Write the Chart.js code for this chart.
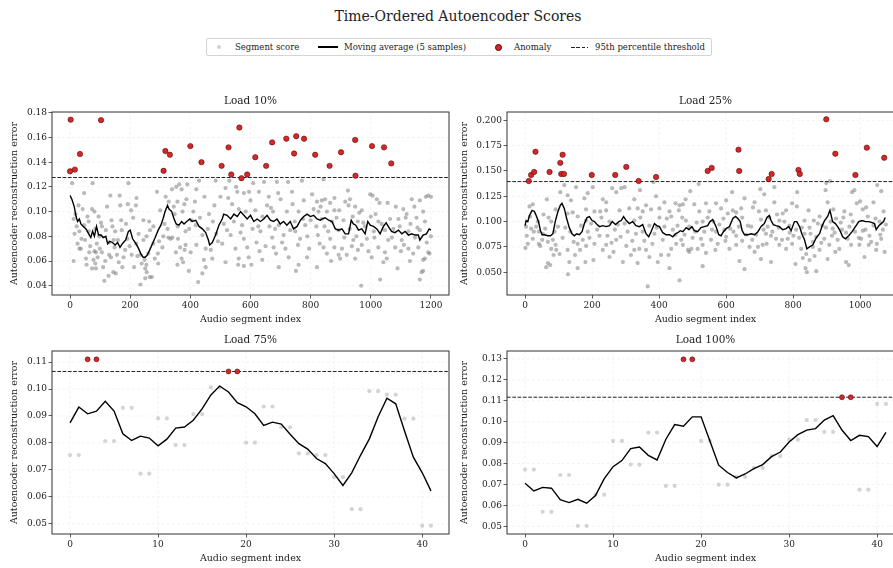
<!DOCTYPE html>
<html><head><meta charset="utf-8">
<script src="https://cdn.jsdelivr.net/npm/chart.js@4.4.0/dist/chart.umd.min.js"></script>
<style>
html,body{margin:0;padding:0;width:893px;height:568px;overflow:hidden;background:#fff;font-family:"DejaVu Serif",serif;color:#222}
canvas{position:absolute}
#title{position:absolute;left:0;width:916px;top:6px;text-align:center;font-size:14px;line-height:20px;white-space:nowrap}
#legend{position:absolute;left:206px;top:38px;width:504px;height:16px;border:1px solid #d4d4d4;border-radius:2px;background:#fff}
.lt{position:absolute;top:0;font-size:8.5px;line-height:16px;white-space:nowrap}
.dot{position:absolute;border-radius:50%}
</style></head>
<body>
<div id="title">Time-Ordered Autoencoder Scores</div>
<div id="legend">
  <div class="dot" style="left:10px;top:6px;width:4px;height:4px;background:#d3d3d3"></div>
  <div class="lt" style="left:28px">Segment score</div>
  <div style="position:absolute;left:111px;top:7px;width:20px;height:1.5px;background:#000"></div>
  <div class="lt" style="left:137px">Moving average (5 samples)</div>
  <div class="dot" style="left:288px;top:5px;width:5px;height:5px;background:#d62728;border:0.6px solid #5a0000"></div>
  <div class="lt" style="left:307px">Anomaly</div>
  <div style="position:absolute;left:364px;top:7.5px;width:17px;height:1px;background:repeating-linear-gradient(90deg,#222 0 3.7px,transparent 3.7px 5.3px)"></div>
  <div class="lt" style="left:388px">95th percentile threshold</div>
</div>
<canvas id="c10" width="460" height="240" style="left:0;top:90px"></canvas>
<canvas id="c25" width="470" height="240" style="left:450px;top:90px"></canvas>
<canvas id="c75" width="460" height="240" style="left:0;top:329px"></canvas>
<canvas id="c100" width="470" height="240" style="left:450px;top:329px"></canvas>
<script>
// ---------------- DATA ----------------
// Load 10%
const load10Scores = [[7,.123],[75,.123],[194,.123],[47,.115],[134,.113],[165,.113],[221,.111],[289,.116],[339,.118],[353,.120],[363,.122],[390,.122],[371,.118],[357,.108],[387,.110],[42,.102],[73,.102],[81,.100],[123,.104],[167,.105],[192,.106],[203,.101],[219,.105],[244,.093],[300,.101],[328,.108],[348,.098],[12,.094],[95,.096],[62,.092],[103,.091],[374,.100],[404,.093],[138,.093],[170,.093],[141,.088],[106,.088],[47,.089],[22,.088],[62,.084],[31,.084],[84,.086],[119,.085],[150,.084],[172,.085],[263,.092],[277,.088],[266,.085],[324,.086],[327,.079],[340,.079],[359,.078],[384,.084],[358,.088],[25,.074],[50,.077],[38,.078],[97,.080],[89,.074],[130,.075],[145,.077],[159,.077],[191,.078],[220,.074],[244,.077],[254,.080],[277,.074],[307,.071],[310,.080],[334,.078],[366,.071],[384,.073],[31,.070],[36,.070],[64,.067],[81,.068],[86,.067],[106,.067],[130,.065],[136,.063],[156,.065],[178,.063],[205,.065],[224,.064],[235,.065],[248,.061],[292,.066],[381,.069],[371,.062],[401,.067],[12,.060],[53,.062],[78,.061],[55,.057],[73,.054],[84,.058],[110,.055],[128,.048],[174,.055],[213,.055],[254,.057],[250,.054],[255,.051],[293,.058],[357,.057],[376,.059],[395,.052],[265,.047],[114,.044],[144,.051],[152,.050],[234,.041],[250,.046],[272,.047],[86,.054],
[429,.125],[484,.125],[530,.125],[609,.123],[645,.124],[688,.124],[725,.124],[771,.125],[420,.118],[517,.119],[556,.116],[578,.115],[628,.116],[600,.109],[661,.112],[692,.115],[738,.116],[777,.109],[821,.108],[410,.100],[462,.098],[526,.111],[539,.106],[561,.102],[616,.101],[655,.105],[675,.100],[721,.100],[760,.100],[810,.102],[833,.104],[418,.089],[475,.092],[511,.090],[572,.089],[626,.088],[663,.088],[694,.089],[747,.092],[782,.089],[819,.088],[440,.081],[486,.082],[534,.081],[578,.078],[633,.084],[672,.079],[710,.081],[749,.084],[789,.080],[824,.081],[420,.073],[451,.070],[506,.074],[550,.070],[589,.071],[630,.068],[677,.071],[716,.070],[758,.073],[795,.070],[445,.061],[473,.062],[517,.059],[561,.062],[594,.063],[639,.061],[685,.066],[727,.063],[760,.057],[788,.063],[451,.055],[440,.050],[426,.043],[559,.057],[603,.057],[694,.055],[751,.052],[821,.055],[578,.056],
[843,.126],[837,.109],[848,.110],[865,.107],[879,.111],[924,.117],[998,.114],[1006,.113],[1029,.107],[1056,.107],[1136,.110],[1163,.109],[1183,.112],[1191,.113],[931,.110],[826,.100],[854,.100],[879,.101],[895,.101],[926,.105],[948,.104],[970,.101],[1016,.098],[1083,.104],[1116,.095],[1152,.095],[1174,.100],[837,.094],[871,.092],[909,.093],[940,.096],[957,.092],[1025,.092],[1092,.094],[1119,.098],[1180,.092],[846,.088],[893,.085],[981,.088],[1047,.085],[1075,.086],[1125,.084],[1163,.085],[865,.078],[912,.079],[942,.077],[987,.078],[1012,.079],[1058,.077],[1103,.077],[1147,.079],[843,.071],[879,.071],[904,.070],[937,.072],[970,.073],[1025,.071],[1081,.071],[1125,.070],[1158,.071],[1191,.067],[854,.066],[893,.065],[920,.065],[957,.069],[1003,.063],[1047,.067],[1100,.068],[1141,.066],[1180,.062],[868,.060],[948,.062],[1042,.059],[1130,.060],[1174,.061],[1031,.045],[1089,.054],[1163,.045],[1169,.051],[968,.040],[1174,.052],[1053,.062],[1200,.112],[1200,.080],[1195,.066],
[15,.082],[18,.098],[28,.105],[58,.096],[67,.072],[92,.063],[99,.070],[117,.060],[148,.071],[162,.059],[183,.069],[186,.090],[198,.072],[210,.095],[228,.082],[238,.058],[260,.066],[282,.062],[296,.076],[314,.090],[318,.112],[345,.104],[352,.067],[380,.106],[396,.086],[415,.108],[432,.095],[447,.112],[458,.086],[468,.069],[480,.105],[492,.076],[500,.112],[522,.085],[545,.092],[552,.120],[567,.083],[584,.100],[595,.116],[607,.086],[620,.075],[640,.096],[650,.072],[668,.103],[682,.086],[700,.110],[705,.075],[732,.085],[740,.106],[765,.078],[775,.094],[800,.093],[805,.114],[830,.074],[858,.084],[886,.095],[898,.062],[915,.108],[930,.086],[952,.080],[962,.099],[975,.091],[992,.068],[1000,.096],[1010,.084],[1020,.110],[1036,.090],[1064,.094],[1070,.079],[1096,.088],[1108,.102],[1110,.073],[1132,.090],[1145,.104],[1155,.087],[1186,.075]];
const load10Anomalies = [[0,.1326],[2,.1744],[16,.134],[33,.1466],[103,.174],[311,.133],[317,.149],[332,.146],[400,.153],[437,.140],[504,.137],[527,.152],[536,.130],[563,.168],[570,.127],[589,.130],[616,.144],[652,.137],[672,.156],[719,.159],[745,.147],[752,.161],[778,.159],[815,.146],[863,.137],[901,.148],[948,.158],[949,.129],[1004,.153],[1044,.152],[1068,.139]];
const load10MovingAvg = [[0,.113],[6,.110],[14,.104],[20,.096],[25,.092],[31,.094],[36,.090],[44,.088],[53,.086],[62,.082],[69,.079],[75,.084],[81,.080],[88,.088],[95,.081],[103,.081],[110,.079],[119,.080],[125,.074],[132,.076],[141,.075],[150,.073],[158,.075],[166,.071],[174,.074],[185,.077],[194,.084],[200,.085],[208,.078],[219,.074],[228,.070],[235,.066],[243,.063],[250,.063],[257,.065],[265,.069],[274,.074],[283,.079],[293,.085],[302,.089],[309,.094],[316,.100],[324,.105],[329,.102],[338,.100],[346,.094],[353,.090],[362,.089],[371,.092],[379,.090],[388,.092],[398,.094],[406,.092],[418,.093],[429,.088],[440,.086],[451,.083],[460,.077],[464,.073],[473,.075],[484,.081],[495,.089],[506,.094],[511,.098],[522,.097],[534,.094],[545,.098],[556,.096],[567,.100],[578,.097],[589,.094],[600,.097],[611,.092],[622,.094],[633,.092],[644,.094],[655,.097],[666,.093],[677,.092],[688,.094],[699,.090],[710,.092],[721,.089],[732,.092],[743,.086],[755,.088],[766,.093],[777,.096],[788,.098],[799,.096],[810,.097],[821,.094],[832,.093],[837,.094],[848,.095],[860,.093],[871,.092],[882,.086],[893,.085],[904,.086],[915,.082],[926,.082],[935,.093],[942,.090],[950,.089],[959,.085],[970,.086],[981,.082],[990,.092],[998,.089],[1009,.088],[1020,.086],[1031,.082],[1042,.088],[1051,.091],[1058,.088],[1069,.084],[1080,.083],[1092,.085],[1103,.082],[1114,.084],[1125,.081],[1136,.082],[1147,.081],[1158,.081],[1163,.077],[1174,.081],[1185,.082],[1194,.086],[1200,.085]];
const load10Threshold = 0.1276;
const load10XTicks = [0,200,400,600,800,1000,1200];
const load10XLabels = ['0','200','400','600','800','1000','1200'];
const load10YTicks = [0.04,0.06,0.08,0.10,0.12,0.14,0.16,0.18];
const load10YLabels = ['0.04','0.06','0.08','0.10','0.12','0.14','0.16','0.18'];

// Load 25%
const load25Scores = [[117,.136],[105,.129],[127,.126],[152,.134],[187,.128],[202,.134],[260,.133],[272,.129],[287,.133],[297,.134],[232,.122],[242,.119],[177,.123],[137,.121],[65,.122],[23,.117],[13,.115],[55,.107],[78,.100],[91,.112],[127,.108],[142,.109],[182,.112],[207,.110],[224,.110],[242,.111],[282,.111],[311,.113],[326,.122],[336,.113],[157,.105],[182,.101],[197,.098],[252,.100],[277,.097],[297,.098],[326,.101],[3,.095],[18,.093],[33,.095],[41,.090],[53,.088],[68,.080],[51,.082],[41,.078],[23,.083],[8,.078],[1,.074],[83,.082],[91,.077],[78,.073],[85,.067],[68,.059],[63,.055],[75,.057],[93,.072],[103,.068],[127,.072],[132,.060],[157,.078],[164,.072],[172,.082],[149,.067],[157,.054],[128,.048],[182,.076],[180,.060],[207,.078],[222,.086],[232,.072],[242,.077],[252,.065],[264,.070],[272,.082],[292,.060],[302,.076],[316,.067],[326,.072],[336,.059],[204,.062],[187,.090],[38,.100],
[343,.131],[383,.139],[391,.125],[518,.137],[493,.130],[479,.122],[471,.117],[461,.116],[449,.118],[416,.119],[401,.113],[376,.112],[361,.116],[351,.110],[431,.110],[459,.111],[505,.117],[540,.118],[570,.118],[600,.121],[618,.129],[655,.123],[685,.119],[702,.132],[714,.127],[719,.111],[680,.114],[645,.113],[620,.111],[630,.109],[585,.113],[550,.110],[520,.110],[344,.104],[371,.096],[401,.104],[423,.103],[436,.105],[469,.104],[490,.095],[530,.100],[562,.100],[592,.103],[612,.093],[648,.104],[675,.095],[704,.102],[351,.090],[386,.088],[416,.095],[449,.087],[476,.087],[508,.090],[535,.090],[570,.090],[600,.085],[630,.086],[660,.087],[690,.087],[719,.088],[341,.073],[361,.072],[371,.065],[396,.060],[406,.067],[428,.067],[436,.073],[451,.078],[471,.077],[486,.072],[496,.073],[515,.073],[530,.077],[555,.082],[568,.072],[575,.078],[598,.081],[610,.073],[630,.077],[648,.081],[670,.075],[685,.070],[695,.075],[709,.077],[721,.078],[366,.036],[461,.042],[431,.054],[530,.056],[640,.061],[655,.053],[704,.063],[490,.070],[540,.069],
[744,.134],[812,.129],[899,.138],[910,.140],[897,.131],[976,.129],[983,.131],[1063,.130],[1051,.136],[744,.119],[797,.118],[779,.111],[811,.115],[846,.111],[879,.105],[903,.119],[920,.112],[953,.110],[990,.118],[1000,.120],[1018,.114],[1040,.119],[1070,.110],[1008,.112],[729,.104],[759,.101],[769,.108],[834,.101],[874,.098],[928,.103],[950,.104],[978,.100],[1023,.105],[1058,.100],[724,.095],[757,.094],[789,.096],[809,.092],[849,.094],[887,.096],[918,.093],[946,.092],[968,.095],[1008,.091],[1040,.096],[1068,.092],[734,.086],[749,.083],[767,.082],[784,.083],[801,.086],[834,.088],[859,.080],[869,.085],[893,.083],[916,.086],[933,.082],[963,.083],[996,.084],[1028,.086],[1063,.083],[759,.077],[779,.073],[797,.078],[824,.073],[839,.068],[859,.075],[879,.072],[908,.077],[926,.070],[938,.073],[973,.077],[998,.077],[1026,.077],[1050,.078],[1073,.070],[829,.064],[837,.054],[849,.062],[864,.066],[903,.063],[958,.060],[966,.057],[1013,.065],[807,.058],[841,.050],[869,.051],[734,.060],[1048,.072],
[5,.086],[15,.105],[26,.090],[45,.076],[60,.093],[70,.104],[88,.090],[98,.095],[112,.084],[120,.094],[135,.090],[145,.080],[167,.096],[192,.084],[215,.092],[228,.104],[246,.086],[258,.079],[268,.092],[285,.085],[306,.090],[320,.081],[331,.088],[356,.081],[380,.078],[393,.094],[411,.082],[441,.092],[455,.096],[466,.082],[480,.101],[500,.084],[512,.099],[525,.083],[545,.104],[558,.092],[580,.097],[595,.092],[605,.108],[622,.090],[638,.095],[665,.096],[678,.082],[698,.110],[712,.092],[738,.090],[752,.107],[774,.100],[790,.089],[818,.084],[826,.094],[852,.088],[862,.101],[884,.079],[898,.094],[912,.100],[924,.089],[942,.099],[958,.089],[972,.107],[985,.090],[1003,.083],[1016,.092],[1033,.080],[1046,.103],[1060,.087],[1077,.097]];
const load25Anomalies = [[11,.140],[18,.146],[27,.149],[31,.169],[73,.149],[105,.158],[112,.166],[108,.147],[116,.147],[199,.146],[269,.146],[302,.154],[339,.140],[391,.144],[545,.150],[557,.153],[637,.171],[639,.150],[727,.142],[736,.147],[816,.151],[820,.147],[899,.201],[926,.167],[986,.146],[1020,.173],[1072,.163]];
const load25MovingAvg = [[0,.096],[3,.101],[8,.100],[13,.106],[21,.111],[28,.110],[33,.106],[40,.100],[46,.091],[51,.087],[58,.087],[68,.086],[76,.086],[83,.088],[90,.100],[98,.110],[105,.116],[110,.118],[117,.113],[124,.103],[132,.094],[140,.088],[147,.086],[154,.088],[162,.087],[170,.090],[177,.098],[185,.104],[192,.105],[200,.101],[207,.100],[215,.097],[222,.095],[232,.096],[242,.095],[252,.096],[260,.100],[270,.097],[280,.100],[287,.101],[294,.105],[302,.101],[311,.098],[321,.100],[331,.096],[341,.095],[351,.097],[361,.088],[369,.085],[376,.090],[386,.098],[393,.096],[401,.095],[411,.089],[421,.087],[431,.087],[441,.085],[449,.088],[456,.089],[463,.091],[471,.090],[481,.094],[489,.092],[498,.095],[505,.091],[515,.090],[525,.094],[535,.095],[545,.096],[552,.100],[560,.102],[570,.095],[578,.087],[585,.086],[592,.090],[600,.093],[610,.095],[620,.103],[628,.105],[635,.103],[642,.100],[648,.091],[655,.087],[665,.087],[675,.088],[685,.087],[695,.090],[704,.095],[714,.098],[722,.104],[729,.106],[734,.101],[741,.097],[749,.096],[759,.095],[769,.092],[779,.093],[787,.095],[794,.091],[804,.100],[811,.100],[819,.095],[827,.087],[834,.082],[841,.073],[849,.075],[859,.077],[869,.084],[879,.088],[887,.096],[894,.101],[903,.105],[910,.111],[918,.100],[926,.098],[933,.095],[940,.091],[948,.085],[956,.083],[966,.086],[976,.090],[986,.095],[996,.100],[1006,.101],[1016,.100],[1026,.100],[1036,.099],[1043,.098],[1048,.092],[1056,.096],[1063,.098],[1070,.100],[1075,.104]];
const load25Threshold = 0.1395;
const load25XTicks = [0,200,400,600,800,1000];
const load25XLabels = ['0','200','400','600','800','1000'];
const load25YTicks = [0.050,0.075,0.100,0.125,0.150,0.175,0.200];
const load25YLabels = ['0.050','0.075','0.100','0.125','0.150','0.175','0.200'];

// Load 75%
const load75Scores = [0.0755,0.0755,0.111,0.111,0.0807,0.0807,0.0930,0.0930,0.0686,0.0686,0.0891,0.0891,0.0792,0.0792,0.0907,0.0907,0.1006,0.1006,0.1065,0.1065,0.0801,0.0801,0.0935,0.0935,0.0858,0.0858,0.0761,0.0761,0.0755,0.0755,0.0673,0.0673,0.0554,0.0554,0.0992,0.0992,0.0979,0.0979,0.0890,0.0890,0.0493,0.0493];
const load75MovingAvg = [0.0874,0.0933,0.0908,0.0918,0.0954,0.0918,0.0834,0.0809,0.0825,0.0818,0.0789,0.0814,0.0855,0.0859,0.0884,0.0926,0.0978,0.1011,0.0989,0.0949,0.0934,0.0908,0.0865,0.0877,0.0870,0.0832,0.0797,0.0777,0.0742,0.0723,0.0686,0.0642,0.0689,0.0754,0.0815,0.0897,0.0966,0.0945,0.0844,0.0747,0.0690,0.0622];
const load75AnomalyIdx = [2,3,18,19];
const load75Threshold = 0.1065;
const load75XTicks = [0,10,20,30,40];
const load75XLabels = ['0','10','20','30','40'];
const load75YTicks = [0.05,0.06,0.07,0.08,0.09,0.10,0.11];
const load75YLabels = ['0.05','0.06','0.07','0.08','0.09','0.10','0.11'];

// Load 100%
const load100Scores = [0.0771,0.0771,0.0569,0.0569,0.0745,0.0745,0.0502,0.0502,0.0651,0.0651,0.0908,0.0908,0.0795,0.0795,0.0948,0.0948,0.0693,0.0693,0.1298,0.1298,0.0908,0.0908,0.0699,0.0699,0.0736,0.0736,0.0779,0.0779,0.0835,0.0835,0.0914,0.0914,0.1008,0.1008,0.0951,0.0951,0.1117,0.1117,0.0675,0.0675,0.1085,0.1085];
const load100MovingAvg = [0.0706,0.0669,0.0686,0.0682,0.0627,0.0613,0.0629,0.0610,0.0647,0.0728,0.0785,0.0814,0.0871,0.0879,0.0839,0.0817,0.0916,0.0986,0.0978,0.1023,0.1023,0.0908,0.0792,0.0757,0.0731,0.0750,0.0776,0.0795,0.0833,0.0855,0.0903,0.0938,0.0960,0.0967,0.1008,0.1029,0.0960,0.0910,0.0935,0.0929,0.0881,0.0949];
const load100AnomalyIdx = [18,19,36,37];
const load100Threshold = 0.1117;
const load100XTicks = [0,10,20,30,40];
const load100XLabels = ['0','10','20','30','40'];
const load100YTicks = [0.05,0.06,0.07,0.08,0.09,0.10,0.11,0.12,0.13];
const load100YLabels = ['0.05','0.06','0.07','0.08','0.09','0.10','0.11','0.12','0.13'];

// ---------------- RENDER ----------------
Chart.defaults.font.family = '"DejaVu Serif", serif';
Chart.defaults.color = '#222';

const pairs = a => a.map(p => ({x: p[0], y: p[1]}));
const seq = a => a.map((v, i) => ({x: i, y: v}));

const panelPlugin = {
  id: 'panel',
  beforeDatasetsDraw(chart, args, opts) {
    const {ctx, chartArea: a, scales: {x, y}} = chart;
    ctx.save();
    ctx.strokeStyle = 'rgba(0,0,0,0.07)';
    ctx.lineWidth = 0.8;
    ctx.setLineDash([2.5, 2.5]);
    x.ticks.forEach(t => {
      const px = x.getPixelForValue(t.value);
      ctx.beginPath(); ctx.moveTo(px, a.top); ctx.lineTo(px, a.bottom); ctx.stroke();
    });
    y.ticks.forEach(t => {
      const py = y.getPixelForValue(t.value);
      ctx.beginPath(); ctx.moveTo(a.left, py); ctx.lineTo(a.right, py); ctx.stroke();
    });
    ctx.restore();
  },
  afterDraw(chart, args, opts) {
    const {ctx, chartArea: a} = chart;
    ctx.save();
    ctx.strokeStyle = '#333';
    ctx.lineWidth = 1;
    ctx.strokeRect(a.left, a.top, a.right - a.left, a.bottom - a.top);
    ctx.fillStyle = '#222';
    ctx.font = '10.5px "DejaVu Serif"';
    ctx.textAlign = 'center';
    ctx.textBaseline = 'middle';
    ctx.fillText(opts.title, (a.left + a.right) / 2, a.top - 10.5);
    ctx.restore();
  }
};

function makeChart(id, c) {
  const datasets = [
    {data: c.anomalies, backgroundColor: '#d62728', borderColor: 'rgba(70,0,0,0.85)', borderWidth: 0.6, pointRadius: c.redR, order: 0},
    {data: [{x: c.xMin, y: c.thr}, {x: c.xMax, y: c.thr}], showLine: true, borderColor: '#222', borderWidth: 1, borderDash: [3.7, 1.6], pointRadius: 0, order: 1},
    {data: c.ma, showLine: true, borderColor: '#000', borderWidth: 1.4, pointRadius: 0, tension: 0, order: 2},
    {data: c.scores, backgroundColor: c.dotColor, borderWidth: 0, pointRadius: 2.1, order: 3}
  ];
  new Chart(document.getElementById(id).getContext('2d'), {
    type: 'scatter',
    data: {datasets},
    options: {
      responsive: false, animation: false, devicePixelRatio: 1,
      layout: {padding: {top: 22, left: 0, right: c.padRight, bottom: 0}},
      plugins: {legend: {display: false}, tooltip: {enabled: false}, panel: {title: c.title}},
      scales: {
        x: {
          type: 'linear', min: c.xMin, max: c.xMax,
          afterBuildTicks: s => { s.ticks = c.xTicks.map(v => ({value: v})); },
          afterFit: s => { s.height = 35; },
          ticks: {callback: (v, i) => c.xLabels[i], font: {size: 9}, color: '#222', padding: 2, maxRotation: 0, autoSkip: false},
          grid: {drawOnChartArea: false, drawTicks: true, tickLength: 3.5, tickColor: '#333', tickWidth: 0.8, color: 'rgba(0,0,0,0)'},
          border: {display: false},
          title: {display: true, text: 'Audio segment index', font: {size: 9.5}, color: '#222', padding: {top: 0, bottom: 4.3}}
        },
        y: {
          type: 'linear', min: c.yMin, max: c.yMax,
          afterBuildTicks: s => { s.ticks = c.yTicks.map(v => ({value: v})); },
          afterFit: s => { s.width = c.yWidth; },
          ticks: {callback: (v, i) => c.yLabels[i], font: {size: 9}, color: '#222', padding: 1.5, autoSkip: false},
          grid: {drawOnChartArea: false, drawTicks: true, tickLength: 3.5, tickColor: '#333', tickWidth: 0.8, color: 'rgba(0,0,0,0)'},
          border: {display: false},
          title: {display: true, text: 'Autoencoder reconstruction error', font: {size: 9.5}, color: '#222', padding: {top: 9.3, bottom: 0}}
        }
      }
    },
    plugins: [panelPlugin]
  });
}

const topDot = 'rgba(128,128,128,0.55)';
const botDot = 'rgba(128,128,128,0.34)';

makeChart('c10', {title: 'Load 10%', scores: pairs(load10Scores), anomalies: pairs(load10Anomalies), ma: pairs(load10MovingAvg), thr: load10Threshold,
  xMin: -60, xMax: 1260, yMin: 0.0325, yMax: 0.1806, xTicks: load10XTicks, xLabels: load10XLabels, yTicks: load10YTicks, yLabels: load10YLabels,
  yWidth: 52, padRight: 11, dotColor: topDot, redR: 2.7});
makeChart('c25', {title: 'Load 25%', scores: pairs(load25Scores), anomalies: pairs(load25Anomalies), ma: pairs(load25MovingAvg), thr: load25Threshold,
  xMin: -54, xMax: 1131, yMin: 0.0275, yMax: 0.2082, xTicks: load25XTicks, xLabels: load25XLabels, yTicks: load25YTicks, yLabels: load25YLabels,
  yWidth: 57, padRight: 16, dotColor: topDot, redR: 2.7});
makeChart('c75', {title: 'Load 75%', scores: seq(load75Scores), anomalies: load75AnomalyIdx.map(i => ({x: i, y: load75Scores[i]})), ma: seq(load75MovingAvg), thr: load75Threshold,
  xMin: -2.05, xMax: 43.05, yMin: 0.0462, yMax: 0.1141, xTicks: load75XTicks, xLabels: load75XLabels, yTicks: load75YTicks, yLabels: load75YLabels,
  yWidth: 52, padRight: 11, dotColor: botDot, redR: 2.5});
makeChart('c100', {title: 'Load 100%', scores: seq(load100Scores), anomalies: load100AnomalyIdx.map(i => ({x: i, y: load100Scores[i]})), ma: seq(load100MovingAvg), thr: load100Threshold,
  xMin: -2.05, xMax: 43.05, yMin: 0.0463, yMax: 0.1338, xTicks: load100XTicks, xLabels: load100XLabels, yTicks: load100YTicks, yLabels: load100YLabels,
  yWidth: 57, padRight: 16, dotColor: botDot, redR: 2.5});
</script>
</body></html>
